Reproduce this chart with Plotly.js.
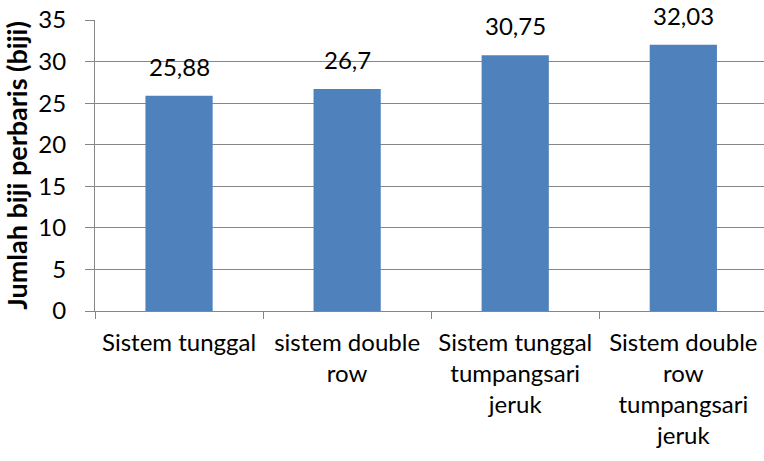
<!DOCTYPE html>
<html>
<head>
<meta charset="utf-8">
<script src="https://cdn.plot.ly/plotly-3.0.1.min.js"></script>
<style>html,body{margin:0;padding:0;background:#fff;}#chart{width:764px;height:461px;}</style>
</head>
<body>
<div id="chart"></div>
<script>
const categories = [
  "Sistem tunggal",
  "sistem double<br>row",
  "Sistem tunggal<br>tumpangsari<br>jeruk",
  "Sistem double<br>row<br>tumpangsari<br>jeruk"
];
const values = [25.88, 26.7, 30.75, 32.03];
const yTicks = [0, 5, 10, 15, 20, 25, 30, 35];
const yTitle = "Jumlah biji perbaris (biji)";

const fmt = v => String(v).replace('.', ',');
const FONT = "Lato, 'Open Sans', sans-serif";
const FS = 24;

const trace = {
  type: 'bar',
  x: categories,
  y: values,
  marker: {color: '#4F81BD', line: {width: 0}},
  width: 0.4,
  hoverinfo: 'none'
};

const annotations = categories.map((c, i) => ({
  x: c, y: values[i], xref: 'x', yref: 'y',
  text: fmt(values[i]), showarrow: false,
  yanchor: 'bottom', yshift: 13,
  font: {family: FONT, size: FS, color: '#000'}
}));

const layout = {
  width: 764, height: 461,
  margin: {l: 95, r: 0, t: 20, b: 150},
  paper_bgcolor: '#fff', plot_bgcolor: '#fff',
  showlegend: false,
  font: {family: FONT, size: FS, color: '#000'},
  xaxis: {
    type: 'category',
    range: [-0.5, 3.48],
    tickson: 'boundaries',
    ticks: 'outside', ticklen: 7, tickcolor: '#868686', tickwidth: 1,
    showline: true, linecolor: '#868686', linewidth: 1,
    showgrid: false,
    ticklabelstandoff: 10,
    tickfont: {family: FONT, size: FS, color: '#000'},
    tickangle: 0
  },
  yaxis: {
    range: [0, 35],
    tickvals: yTicks,
    ticktext: yTicks.map(String),
    ticks: 'outside', ticklen: 9, tickcolor: '#868686', tickwidth: 1,
    showline: true, linecolor: '#868686', linewidth: 1,
    showgrid: true, gridcolor: '#868686', gridwidth: 1,
    zeroline: false,
    ticklabelstandoff: 14,
    tickfont: {family: FONT, size: FS, color: '#000'},
    title: {text: '<b>' + yTitle + '</b>', font: {family: FONT, size: 27, color: '#000'}, standoff: 8}
  },
  annotations: annotations
};

Plotly.newPlot('chart', [trace], layout, {displayModeBar: false, staticPlot: true});
</script>
</body>
</html>
